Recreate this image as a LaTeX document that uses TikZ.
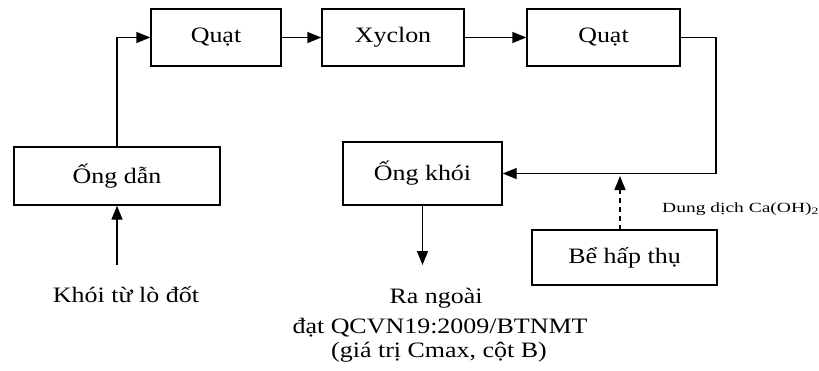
\documentclass[tikz,border=0pt]{standalone}
\usepackage{fontspec}
\setmainfont{Liberation Serif}[FakeStretch=1.18]
\usetikzlibrary{arrows.meta}
\begin{document}
\begin{tikzpicture}[x=1pt,y=-1pt,
  box/.style={draw,line width=1.4pt,inner sep=0pt,font=\fontsize{22}{26}\selectfont},
  arr/.style={line width=1.4pt,-{Triangle[length=14pt,width=11pt]}},
  lbl/.style={inner sep=0pt,font=\fontsize{22}{26}\selectfont},
  small/.style={inner sep=0pt,font=\fontsize{14}{16}\selectfont}]
\useasboundingbox[fill=white] (0,0) rectangle (819,370);
\node[box,minimum width=130pt,minimum height=57pt] (quat1) at (216,37.5) {Quạt};
\node[box,minimum width=142pt,minimum height=57pt] (xyclon) at (393,37.5) {Xyclon};
\node[box,minimum width=153pt,minimum height=57pt] (quat2) at (603.5,37.5) {Quạt};
\node[box,minimum width=206pt,minimum height=58pt] (ongdan) at (117,176) {Ống dẫn};
\node[box,minimum width=159pt,minimum height=63pt] (ongkhoi) at (422.5,173.5) {Ống khói};
\node[box,minimum width=185pt,minimum height=55pt] (be) at (624.5,257.5) {Bể hấp thụ};
\node[lbl,anchor=base] (khoi) at (126,302) {Khói từ lò đốt};
\node[lbl,anchor=base] (ra1) at (436,303) {Ra ngoài};
\node[lbl,anchor=base] (ra2) at (440,333) {đạt QCVN19:2009/BTNMT};
\node[lbl,anchor=base] (ra3) at (439,357) {(giá trị Cmax, cột B)};
\node[small,anchor=base west] (dd) at (662,212) {\scalebox{1.18}[1]{Dung dịch Ca(OH)\textsubscript{2}}};
\coordinate (k0) at (117,265);
\coordinate (c1) at (716,37.5);
\coordinate (c2) at (716,173.5);
\coordinate (o1) at (422.5,265);
\coordinate (b0) at (620,230);
\coordinate (b1) at (620,176);
\draw[arr] (k0) -- (ongdan.south);
\draw[arr] (ongdan.north) |- (quat1.west);
\draw[arr] (quat1.east) -- (xyclon.west);
\draw[arr] (xyclon.east) -- (quat2.west);
\draw[arr] (quat2.east) -- (c1) -- (c2) -- (ongkhoi.east);
\draw[arr] (ongkhoi.south) -- (o1);
\draw[arr,dash pattern=on 5pt off 4pt] (b0) -- (b1);
\end{tikzpicture}
\end{document}
